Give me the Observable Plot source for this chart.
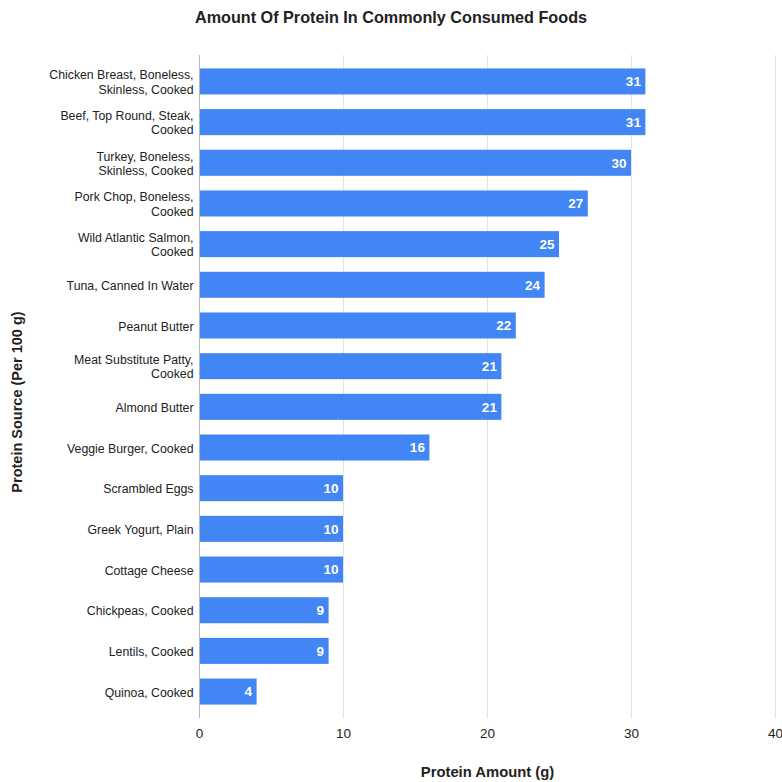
<!DOCTYPE html>
<html>
<head>
<meta charset="utf-8">
<script src="https://cdn.jsdelivr.net/npm/d3@7"></script>
<script src="https://cdn.jsdelivr.net/npm/@observablehq/plot@0.6"></script>
<style>
  body { margin: 0; background: #fff; font-family: "Liberation Sans", Arial, sans-serif; }
  #title { height: 34px; line-height: 34px; text-align: center; font-weight: bold; font-size: 16.2px; color: #222; width: 782px; }
</style>
</head>
<body>
<div id="title">Amount Of Protein In Commonly Consumed Foods</div>
<div id="chart"></div>
<script>
const categories = [
  "Chicken Breast, Boneless, Skinless, Cooked",
  "Beef, Top Round, Steak, Cooked",
  "Turkey, Boneless, Skinless, Cooked",
  "Pork Chop, Boneless, Cooked",
  "Wild Atlantic Salmon, Cooked",
  "Tuna, Canned In Water",
  "Peanut Butter",
  "Meat Substitute Patty, Cooked",
  "Almond Butter",
  "Veggie Burger, Cooked",
  "Scrambled Eggs",
  "Greek Yogurt, Plain",
  "Cottage Cheese",
  "Chickpeas, Cooked",
  "Lentils, Cooked",
  "Quinoa, Cooked"
];
const tickLabels = [
  "Chicken Breast, Boneless,\nSkinless, Cooked",
  "Beef, Top Round, Steak,\nCooked",
  "Turkey, Boneless,\nSkinless, Cooked",
  "Pork Chop, Boneless,\nCooked",
  "Wild Atlantic Salmon,\nCooked",
  "Tuna, Canned In Water",
  "Peanut Butter",
  "Meat Substitute Patty,\nCooked",
  "Almond Butter",
  "Veggie Burger, Cooked",
  "Scrambled Eggs",
  "Greek Yogurt, Plain",
  "Cottage Cheese",
  "Chickpeas, Cooked",
  "Lentils, Cooked",
  "Quinoa, Cooked"
];
const protein = [31, 31, 30, 27, 25, 24, 22, 21, 21, 16, 10, 10, 10, 9, 9, 4];
const xTicks = [0, 10, 20, 30, 40];

const data = categories.map((c, i) => ({food: c, value: protein[i]}));
const labelOf = new Map(categories.map((c, i) => [c, tickLabels[i]]));
const FONT = "'Liberation Sans', Arial, sans-serif";

const chart = Plot.plot({
  width: 782,
  height: 748,
  marginTop: 21,
  marginBottom: 64,
  marginLeft: 199,
  marginRight: 7,
  style: {fontFamily: FONT, background: "#fff", overflow: "visible"},
  x: {domain: [0, 40]},
  y: {domain: categories, paddingInner: 0.36, paddingOuter: 0.33, round: false},
  marks: [
    Plot.ruleX(xTicks.filter(d => d > 0), {stroke: "#e3e3e3", strokeWidth: 1}),
    Plot.barX(data, {x: "value", y: "food", fill: "#4285f4"}),
    Plot.ruleX([0], {stroke: "#b7b7b7", strokeWidth: 1}),
    Plot.text(data, {x: "value", y: "food", text: d => String(d.value), textAnchor: "end", dx: -5, fill: "#fff", fontWeight: "bold", fontSize: 13.5}),
    Plot.axisX({ticks: xTicks, tickSize: 0, tickPadding: 10, fontSize: 13.5, color: "#222", label: null}),
    Plot.axisY({tickSize: 0, tickPadding: 6, fontSize: 12.3, color: "#222", lineHeight: 1.15, tickFormat: d => labelOf.get(d), label: null}),
    Plot.text(["Protein Amount (g)"], {frameAnchor: "bottom", dy: 58, fontWeight: "bold", fontSize: 14.8, fill: "#222"}),
    Plot.text(["Protein Source (Per 100 g)"], {frameAnchor: "left", textAnchor: "middle", dx: -182, dy: 15, rotate: -90, fontWeight: "bold", fontSize: 14.5, fill: "#222"})
  ]
});
document.getElementById("chart").appendChild(chart);
</script>
</body>
</html>
